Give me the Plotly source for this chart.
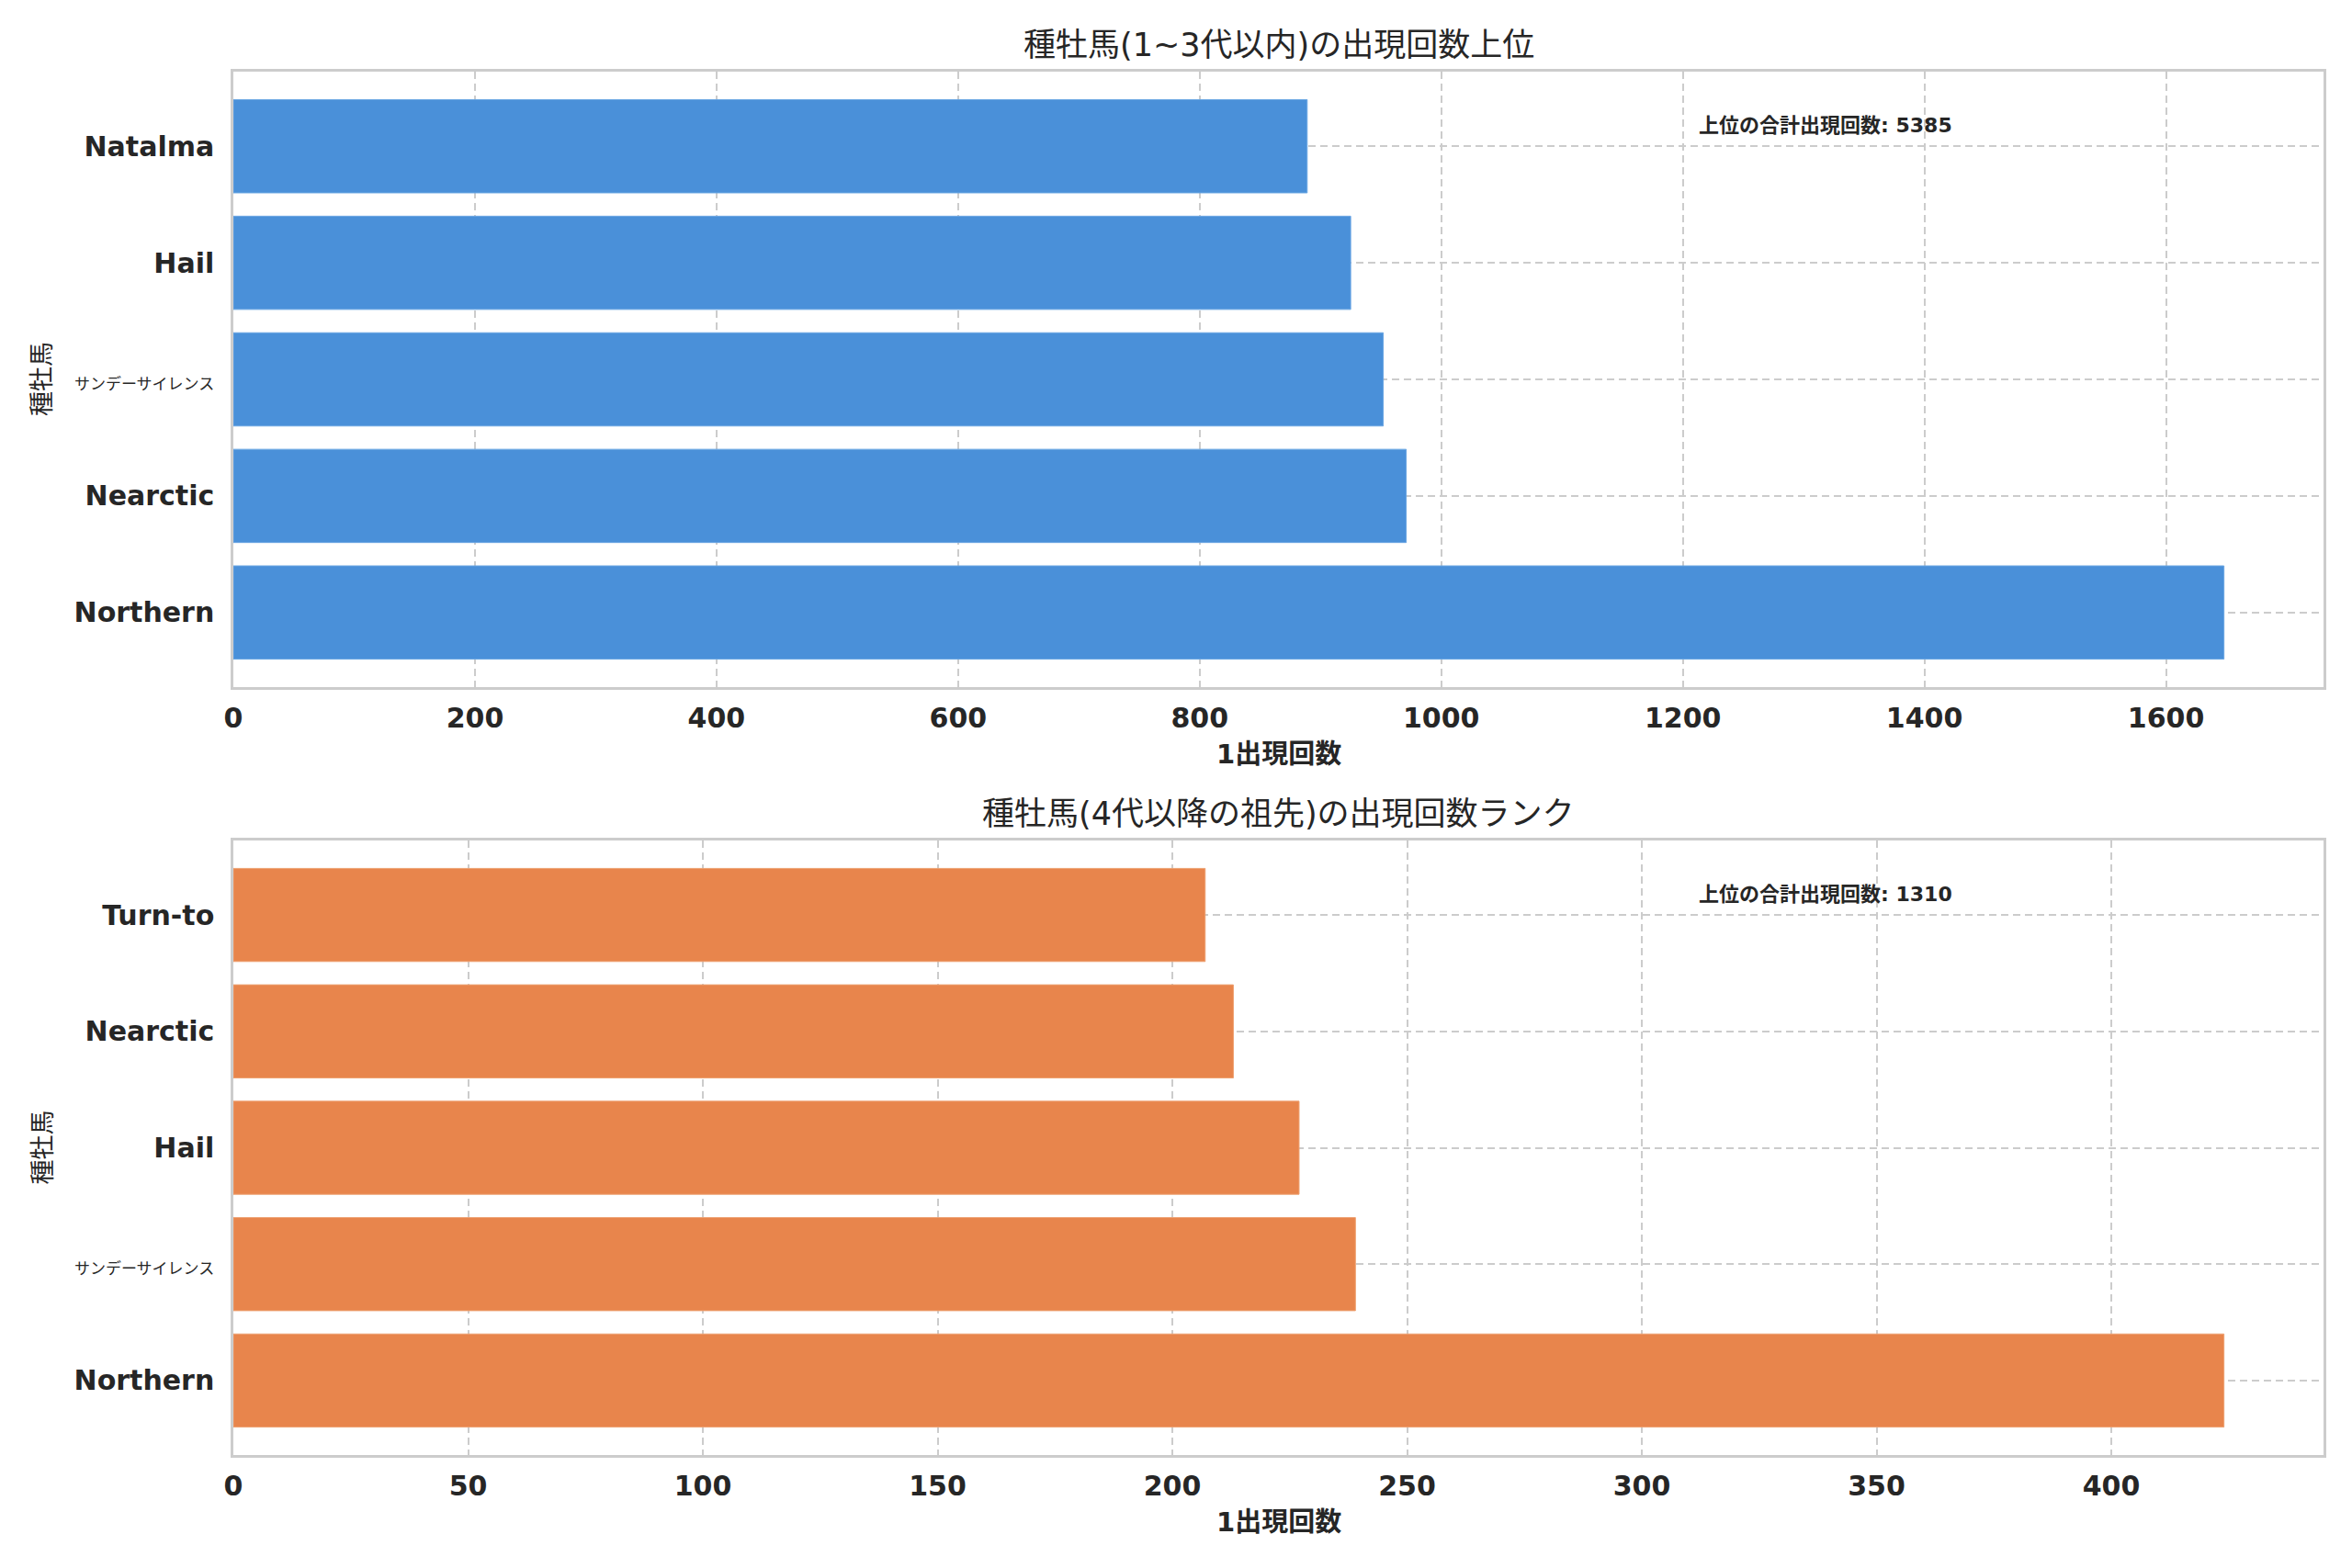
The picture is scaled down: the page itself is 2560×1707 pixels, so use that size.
import plotly.graph_objects as go

# 1~3代 (上段)
upper_names = ["Northern", "Nearctic", "サンデーサイレンス", "Hail", "Natalma"]
upper_counts = [1648, 971, 952, 925, 889]

# 4代以降 (下段)
lower_names = ["Northern", "サンデーサイレンス", "Hail", "Nearctic", "Turn-to"]
lower_counts = [424, 239, 227, 213, 207]

upper_title = "種牡馬(1~3代以内)の出現回数上位"
lower_title = "種牡馬(4代以降の祖先)の出現回数ランク"
x_label = "1出現回数"
y_label = "種牡馬"
total_label = "上位の合計出現回数"

W, H = 2560, 1707
FONT = "DejaVu Sans, Noto Sans CJK JP, sans-serif"
TXT = "#262626"
GRID = "#cccccc"
OFF = 8  # page body margin

# plot areas in pixels (left, right, top, bottom)
x0, x1 = 254 - OFF, 2529 - OFF
panels = [(78 - OFF, 748 - OFF), (915 - OFF, 1584 - OFF)]


def px2x(p):
    return p / W


def px2y(p):
    return 1 - p / H


def tick_label(name):
    # 日本語名は細め・小さめにして英字ラベルと幅を揃える
    if name.isascii():
        return name
    return '<span style="font-size:17px;font-weight:normal">%s</span>' % name


fig = go.Figure()

fig.add_trace(go.Bar(y=upper_names, x=upper_counts, orientation="h",
                     marker=dict(color="#4a90d9", line=dict(color="#6aa6e3", width=1)),
                     xaxis="x", yaxis="y"))
fig.add_trace(go.Bar(y=lower_names, x=lower_counts, orientation="h",
                     marker=dict(color="#e8854c", line=dict(color="#eea070", width=1)),
                     xaxis="x2", yaxis="y2"))

axis_common = dict(showline=True, linecolor=GRID, linewidth=2.5, mirror=True,
                   showgrid=True, gridcolor=GRID, gridwidth=2, griddash="8px,5px",
                   zeroline=False, ticks="", automargin=False,
                   tickfont=dict(family=FONT, size=30, color=TXT, weight="bold"))

layout = dict(width=W, height=H, margin=dict(l=0, r=0, t=0, b=0),
              paper_bgcolor="white", plot_bgcolor="white", showlegend=False,
              bargap=0.2, font=dict(family=FONT, color=TXT))

ann = []
for i, (top, bot) in enumerate(panels):
    sx = "" if i == 0 else "2"
    names = upper_names if i == 0 else lower_names
    counts = upper_counts if i == 0 else lower_counts
    title = upper_title if i == 0 else lower_title
    layout["xaxis" + sx] = dict(axis_common, domain=[px2x(x0), px2x(x1)],
                                anchor="y" + sx, range=[0, max(counts) * 1.05],
                                dtick=200 if i == 0 else 50, ticklabelstandoff=5)
    layout["yaxis" + sx] = dict(axis_common, domain=[px2y(bot), px2y(top)],
                                anchor="x" + sx, type="category",
                                tickvals=names, ticktext=[tick_label(n) for n in names],
                                range=[-0.64, 4.64], ticklabelstandoff=12)
    cx = (x0 + x1) / 2
    ann.append(dict(text=title, x=px2x(cx), y=px2y(top - 29), xref="paper", yref="paper",
                    xanchor="center", yanchor="middle", showarrow=False,
                    font=dict(size=35, family=FONT, color=TXT)))
    ann.append(dict(text="<b>" + x_label + "</b>", x=px2x(cx), y=px2y(bot + 73),
                    xref="paper", yref="paper", xanchor="center", yanchor="middle",
                    showarrow=False, font=dict(size=29, family=FONT, color=TXT)))
    ann.append(dict(text=y_label, x=px2x(46 - OFF), y=px2y((top + bot) / 2), xref="paper",
                    yref="paper", xanchor="center", yanchor="middle", textangle=-90,
                    showarrow=False, font=dict(size=27, family=FONT, color=TXT)))
    ann.append(dict(text="<b>%s: %d</b>" % (total_label, sum(counts)),
                    x=0.7, y=1 - 0.088, xref="x%s domain" % sx, yref="y%s domain" % sx,
                    xanchor="left", yanchor="middle", showarrow=False,
                    font=dict(size=22, family=FONT, color=TXT)))

layout["annotations"] = ann
fig.update_layout(**layout)

fig.write_html("out.html")
